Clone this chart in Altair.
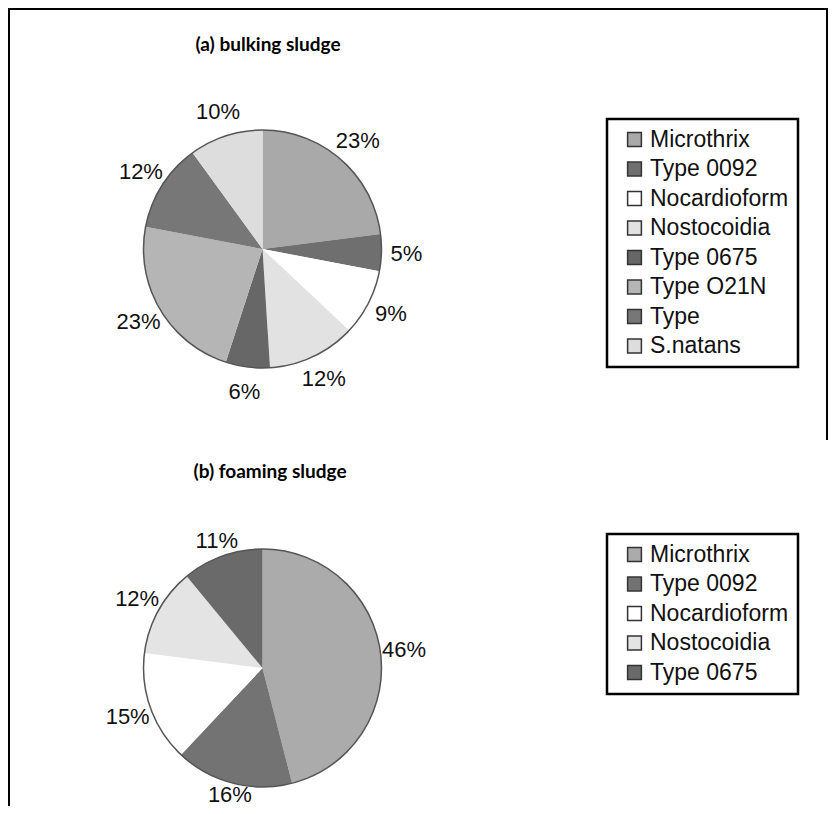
import math
import altair as alt
import pandas as pd

# ---------------- data ----------------
cats_a = ["Microthrix", "Type 0092", "Nocardioform", "Nostocoidia",
          "Type 0675", "Type O21N", "Type", "S.natans"]
vals_a = [23, 5, 9, 12, 6, 23, 12, 10]
colors_a = ["#a9a9a9", "#6f6f6f", "#ffffff", "#e2e2e2",
            "#676767", "#b5b5b5", "#777777", "#dddddd"]

cats_b = ["Microthrix", "Type 0092", "Nocardioform", "Nostocoidia", "Type 0675"]
vals_b = [46, 16, 15, 12, 11]
colors_b = ["#ababab", "#737373", "#ffffff", "#e4e4e4", "#6a6a6a"]

titles = ["(a) bulking sludge", "(b) foaming sludge"]

# ---------------- layout (view coords = page - 8) ----------------
W, H = 820, 798
R = 119
CXA, CYA = 254.5, 241
CXB, CYB = 254.5, 660
LEGX = 599
LEGYA, LEGYB = 111, 526
TITLE_FONT = "Lato"
LABEL_HALF_H = 11


def make_df(cats, vals, gap, cy, fixed=None):
    df = pd.DataFrame({"cat": cats, "val": vals, "idx": list(range(len(cats)))})
    df["label"] = df["val"].astype(str) + "%"
    total = float(sum(vals))
    ends = df["val"].cumsum()
    df["mid"] = ends - df["val"] / 2.0          # middle of each slice, in data units
    ang = df["mid"] / total * 2 * math.pi
    half_w = df["label"].str.len() * 7.3
    radii = []
    for hw, m in zip(half_w, ang):
        if fixed is not None:
            r = float(fixed)
        else:
            # outside-end placement: pie edge + gap + half extent of the label box
            r = R + gap + hw * abs(math.sin(m)) + 8 * abs(math.cos(m))
        c = math.cos(m)
        if c < 0:  # keep the label inside the drawing's bottom edge
            r = min(r, (H - LABEL_HALF_H - cy) / -c)
        radii.append(r)
    df["lr"] = radii
    return df


df_a = make_df(cats_a, vals_a, 0, CYA, fixed=144)
df_b = make_df(cats_b, vals_b, 1, CYB)
one = pd.DataFrame({"k": [0]})


def pie(df, cats, colors, cx, cy, ly, rowpad):
    arcs = alt.Chart(df).mark_arc(outerRadius=R, strokeWidth=0).encode(
        theta=alt.Theta("val:Q", stack=True),
        order=alt.Order("idx:O"),
        color=alt.Color(
            "cat:N",
            scale=alt.Scale(domain=cats, range=colors),
            sort=cats,
            legend=alt.Legend(orient="none", legendX=LEGX, legendY=ly,
                              title=None, rowPadding=rowpad),
        ),
        x=alt.value(cx),
        y=alt.value(cy),
    )
    outline = alt.Chart(one).mark_arc(
        outerRadius=R, theta=0, theta2=6.2832, fillOpacity=0,
        stroke="#555555", strokeWidth=1.5,
    ).encode(x=alt.value(cx), y=alt.value(cy))
    labels = alt.Chart(df).mark_text(
        font="Liberation Sans", fontSize=22, color="#111111",
        align="center", baseline="middle",
    ).encode(
        theta=alt.Theta("mid:Q", stack=None),
        radius=alt.Radius("lr:Q", scale=None),
        text="label:N",
        x=alt.value(cx),
        y=alt.value(cy),
    )
    return arcs, outline, labels


a_arcs, a_out, a_lab = pie(df_a, cats_a, colors_a, CXA, CYA, LEGYA, 5.5)
b_arcs, b_out, b_lab = pie(df_b, cats_b, colors_b, CXB, CYB, LEGYB, 5.5)

title_a = alt.Chart(one).mark_text(
    text=titles[0], font=TITLE_FONT, fontSize=19, fontWeight="bold",
    color="#000000", align="center", baseline="middle",
).encode(x=alt.value(260), y=alt.value(37))
title_b = alt.Chart(one).mark_text(
    text=titles[1], font=TITLE_FONT, fontSize=19, fontWeight="bold",
    color="#000000", align="center", baseline="middle",
).encode(x=alt.value(262), y=alt.value(464))

border_top = alt.Chart(one).mark_rule(color="black", strokeWidth=2).encode(
    x=alt.value(0), x2=alt.value(W), y=alt.value(1))
border_left = alt.Chart(one).mark_rule(color="black", strokeWidth=2).encode(
    x=alt.value(1), y=alt.value(0), y2=alt.value(H))
border_right = alt.Chart(one).mark_rule(color="black", strokeWidth=2).encode(
    x=alt.value(W - 1), y=alt.value(0), y2=alt.value(432))

chart = alt.layer(
    border_top, border_left, border_right,
    a_arcs, b_arcs, a_out, b_out, a_lab, b_lab, title_a, title_b,
).resolve_scale(color="independent").properties(
    width=W, height=H,
    autosize=alt.AutoSizeParams(type="none"),
    padding=0,
    background="white",
).configure_view(strokeWidth=0).configure_legend(
    symbolType="square", symbolSize=190, symbolStrokeColor="#333333",
    symbolStrokeWidth=1.5, labelFont="Liberation Sans", labelFontSize=23,
    labelColor="#111111", labelLimit=0, labelOffset=4, symbolOffset=7,
    strokeColor="black", strokeWidth=2.5, padding=9,
    fillColor="white",
)

chart.save("out.html", embed_options={"renderer": "svg", "actions": False})
